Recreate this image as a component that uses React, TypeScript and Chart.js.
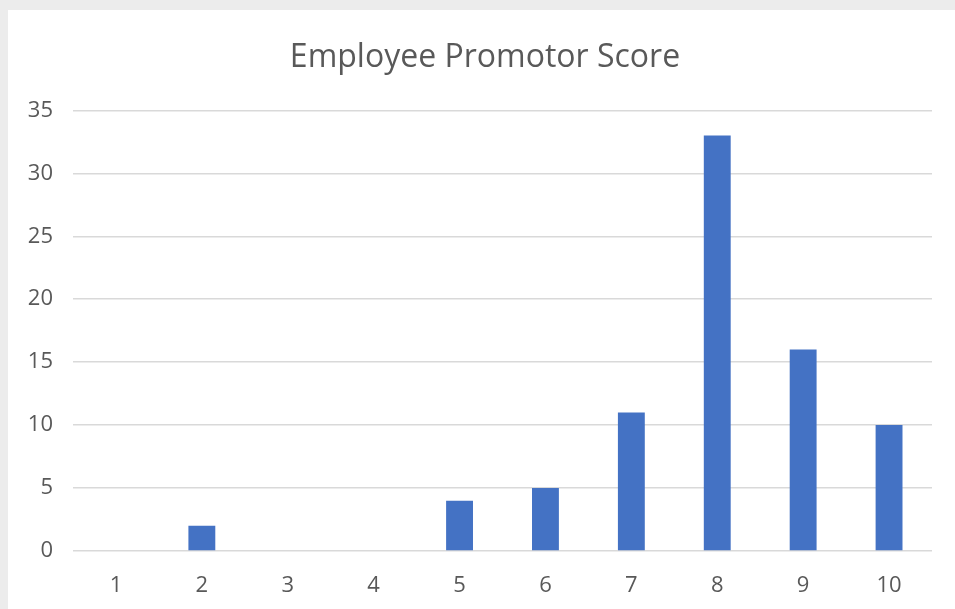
import React, { useEffect, useRef } from "react";
import { Chart, registerables } from "chart.js";

Chart.register(...registerables);

const categories = ["1", "2", "3", "4", "5", "6", "7", "8", "9", "10"];
const counts = [0, 2, 0, 0, 4, 5, 11, 33, 16, 10];
const yMax = 35;
const yStep = 5;
const title = "Employee Promotor Score";

export default function App() {
  const ref = useRef<HTMLCanvasElement | null>(null);

  useEffect(() => {
    if (!ref.current) return;
    const font = "'Open Sans', 'Noto Sans', sans-serif";
    const chart = new Chart(ref.current, {
      type: "bar",
      data: {
        labels: categories,
        datasets: [
          {
            data: counts,
            backgroundColor: "#4472C4",
            borderWidth: 0,
            barPercentage: 0.313,
            categoryPercentage: 1,
          },
        ],
      },
      options: {
        animation: false,
        responsive: false,
        maintainAspectRatio: false,
        layout: { padding: { left: 15, right: 8, top: 0, bottom: 0 } },
        plugins: {
          legend: { display: false },
          tooltip: { enabled: false },
          title: {
            display: true,
            text: title,
            color: "#595959",
            font: { family: font, size: 32, weight: "normal" as any },
            padding: { top: 29, bottom: 33 },
          },
        },
        scales: {
          x: {
            afterFit: (s: any) => {
              s.height = 58;
            },
            grid: { display: false, drawTicks: false },
            border: { display: false },
            ticks: {
              color: "#595959",
              font: { family: font, size: 22 },
              padding: 22,
              maxRotation: 0,
            },
          },
          y: {
            min: 0,
            max: yMax,
            afterFit: (s: any) => {
              s.width = 50;
            },
            grid: { color: "#d9d9d9", lineWidth: 1.5, drawTicks: false },
            border: { display: false },
            ticks: {
              stepSize: yStep,
              color: "#595959",
              font: { family: font, size: 22 },
              padding: 20,
            },
          },
          yRight: {
            type: "linear",
            position: "right",
            min: 0,
            max: yMax,
            afterFit: (s: any) => {
              s.width = 15;
            },
            grid: { display: false, drawTicks: false },
            border: { display: false },
            ticks: { display: false },
          },
        },
      },
    });
    return () => chart.destroy();
  }, []);

  return (
    <div
      style={{
        position: "fixed",
        left: 0,
        top: 0,
        width: 955,
        height: 609,
        background: "#ececec",
        overflow: "hidden",
      }}
    >
      <div
        style={{
          position: "absolute",
          left: 8,
          top: 10,
          width: 947,
          height: 599,
          background: "#ffffff",
        }}
      >
        <canvas ref={ref} width={947} height={599} style={{ display: "block" }} />
      </div>
    </div>
  );
}
